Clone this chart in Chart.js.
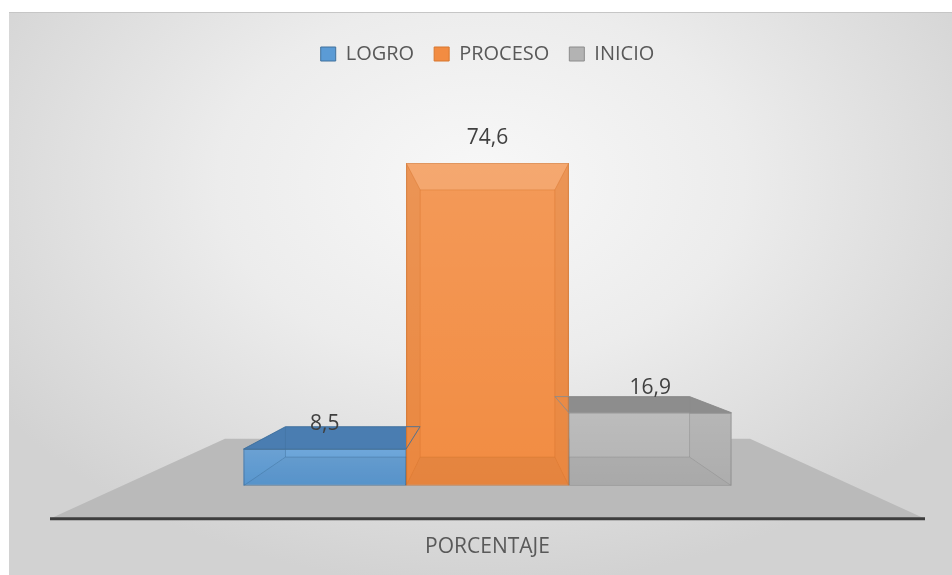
<!DOCTYPE html>
<html>
<head>
<meta charset="utf-8">
<script src="https://cdn.jsdelivr.net/npm/chart.js@4.4.1/dist/chart.umd.min.js"></script>
<style>
  html, body { margin: 0; padding: 0; background: #fff; }
  #panel {
    position: absolute; left: 9px; top: 12px; width: 943px; height: 563px;
    background: radial-gradient(ellipse 62% 72% at 50% 30%, #f8f8f8 0%, #ececec 45%, #d2d2d2 100%);
    border-top: 1px solid #c6c6c6;
    box-sizing: border-box;
  }
  #wrap { position: absolute; left: 9px; top: 12px; width: 943px; height: 563px; }
</style>
</head>
<body>
<div id="panel"></div>
<div id="wrap"><canvas id="chart" width="943" height="563"></canvas></div>
<script>
// 3D-look column chart (Excel style). Front faces come from Chart.js,
// the depth faces / floor are painted by a small plugin off the bar elements.

const categories = ['PORCENTAJE'];
const seriesNames = ['LOGRO', 'PROCESO', 'INICIO'];
const logro   = [8.5];
const proceso = [74.6];
const inicio  = [16.9];
const Y_MAX = 95.2;

const FRONT = ['#5b9bd5', '#f28c42', '#b3b3b3'];
const TOP   = ['#4a7db1', '#d9762e', '#8d8d8d'];
const SIDE  = ['#4f87bf', '#e07d34', '#a0a0a0'];
const EDGE  = ['#41719c', '#d7762f', '#8c8c8c'];

const FONT = '"Open Sans", sans-serif';

// perspective bits (style only)
const BAR_DEPTH = 0.172, FLOOR_DEPTH = 0.4, EYE_RISE = 167, FLOOR_DROP = 33;

const toward = (p, vp, f) => [p[0] + (vp[0] - p[0]) * f, p[1] + (vp[1] - p[1]) * f];

function poly(ctx, pts) {
  ctx.beginPath();
  ctx.moveTo(pts[0][0], pts[0][1]);
  for (let i = 1; i < pts.length; i++) ctx.lineTo(pts[i][0], pts[i][1]);
  ctx.closePath();
}

function geometry(chart) {
  const { chartArea: a, scales: { y } } = chart;
  const zero = y.getPixelForValue(0);
  const vp = [(a.left + a.right) / 2, zero - EYE_RISE];
  const bars = chart.data.datasets.map((ds, i) => {
    const el = chart.getDatasetMeta(i).data[0];
    const { x, y: top, base, width } = el.getProps(['x', 'y', 'base', 'width'], true);
    const l = x - width / 2, r = x + width / 2;
    const f = { tl: [l, top], tr: [r, top], br: [r, base], bl: [l, base] };
    const b = {};
    for (const k in f) b[k] = toward(f[k], vp, BAR_DEPTH);
    return { i, x, l, r, top, base, f, b, value: ds.data[0] };
  });
  return { a, zero, vp, bars };
}

const excel3d = {
  id: 'excel3d',
  beforeDatasetsDraw(chart) {
    const ctx = chart.ctx;
    const { a, zero, vp, bars } = geometry(chart);
    ctx.save();
    // floor
    const fl = [a.left, zero + FLOOR_DROP], fr = [a.right, zero + FLOOR_DROP];
    poly(ctx, [fl, fr, toward(fr, vp, FLOOR_DEPTH), toward(fl, vp, FLOOR_DEPTH)]);
    ctx.fillStyle = '#bababa';
    ctx.fill();
    // axis line
    ctx.beginPath();
    ctx.moveTo(fl[0], fl[1]); ctx.lineTo(fr[0], fr[1]);
    ctx.strokeStyle = '#3d3d3d'; ctx.lineWidth = 3;
    ctx.stroke();
    // side + top faces (front faces hide whatever is not visible)
    bars.forEach(({ i, f, b }) => {
      ctx.fillStyle = SIDE[i];
      poly(ctx, [f.tl, f.bl, b.bl, b.tl]); ctx.fill();
      poly(ctx, [f.tr, f.br, b.br, b.tr]); ctx.fill();
      ctx.fillStyle = TOP[i];
      poly(ctx, [f.tl, f.tr, b.tr, b.tl]); ctx.fill();
    });
    ctx.restore();
  },
  afterDatasetsDraw(chart) {
    const ctx = chart.ctx;
    const { vp, bars } = geometry(chart);
    bars.forEach(({ i, x, l, r, top, base, f, b, value }) => {
      // see-through shading inside the front face
      ctx.save();
      ctx.beginPath();
      ctx.rect(l, top, r - l, base - top);
      ctx.clip();
      const g = ctx.createLinearGradient(0, top, 0, base);
      g.addColorStop(0, 'rgba(255,255,255,0.12)');
      g.addColorStop(1, 'rgba(255,255,255,0)');
      ctx.fillStyle = g;
      ctx.fillRect(l, top, r - l, base - top);
      ctx.fillStyle = 'rgba(255,255,255,0.14)';
      poly(ctx, [f.tl, f.tr, b.tr, b.tl]); ctx.fill();
      ctx.fillStyle = 'rgba(0,0,0,0.05)';
      poly(ctx, [f.bl, f.br, b.br, b.bl]); ctx.fill();
      ctx.fillStyle = 'rgba(0,0,0,0.03)';
      poly(ctx, [f.tl, f.bl, b.bl, b.tl]); ctx.fill();
      poly(ctx, [f.tr, f.br, b.br, b.tr]); ctx.fill();
      ctx.restore();

      // hidden edges, clipped to front face + top face
      ctx.save();
      ctx.beginPath();
      ctx.rect(l, top, r - l, base - top);
      if (top > vp[1]) {
        ctx.moveTo(f.tl[0], f.tl[1]);
        ctx.lineTo(f.tr[0], f.tr[1]);
        ctx.lineTo(b.tr[0], b.tr[1]);
        ctx.lineTo(b.tl[0], b.tl[1]);
        ctx.closePath();
      }
      ctx.clip();
      ctx.strokeStyle = EDGE[i];
      ctx.globalAlpha = 0.45;
      ctx.lineWidth = 1;
      poly(ctx, [b.tl, b.tr, b.br, b.bl]); ctx.stroke();
      ctx.beginPath();
      ['tl', 'tr', 'br', 'bl'].forEach(k => { ctx.moveTo(f[k][0], f[k][1]); ctx.lineTo(b[k][0], b[k][1]); });
      ctx.stroke();
      ctx.restore();

      if (top > vp[1]) {
        ctx.save();
        ctx.strokeStyle = EDGE[i];
        ctx.globalAlpha = 0.8;
        poly(ctx, [f.tl, f.tr, b.tr, b.tl]); ctx.stroke();
        ctx.restore();
      }

      // value label
      ctx.save();
      ctx.font = '21px ' + FONT;
      ctx.fillStyle = '#404040';
      ctx.textAlign = 'center';
      ctx.textBaseline = 'middle';
      ctx.fillText(value.toFixed(1).replace('.', ','), x, top - 25);
      ctx.restore();
    });
  }
};

const seriesData = [logro, proceso, inicio];

new Chart(document.getElementById('chart'), {
  type: 'bar',
  data: {
    labels: categories,
    datasets: seriesNames.map((name, i) => ({
      label: name,
      data: seriesData[i],
      backgroundColor: FRONT[i],
      borderColor: EDGE[i],
      borderWidth: 1,
      borderSkipped: false,
    })),
  },
  options: {
    responsive: false,
    animation: false,
    layout: { padding: { left: 41, right: 27, top: 12, bottom: 15 } },
    categoryPercentage: 0.5577,
    barPercentage: 1,
    scales: {
      x: {
        grid: { display: false },
        border: { display: false },
        ticks: { padding: 41, color: '#595959', font: { family: FONT, size: 21 } },
        // chart.js counts tick padding twice in the axis height
        afterFit: s => { s.height -= s.options.ticks.padding; },
      },
      y: { display: false, min: 0, max: Y_MAX },
    },
    plugins: {
      legend: {
        position: 'top',
        labels: {
          boxWidth: 15, boxHeight: 14, padding: 20,
          color: '#595959',
          font: { family: FONT, size: 20 },
        },
      },
      tooltip: { enabled: false },
    },
  },
  plugins: [excel3d],
});
</script>
</body>
</html>
